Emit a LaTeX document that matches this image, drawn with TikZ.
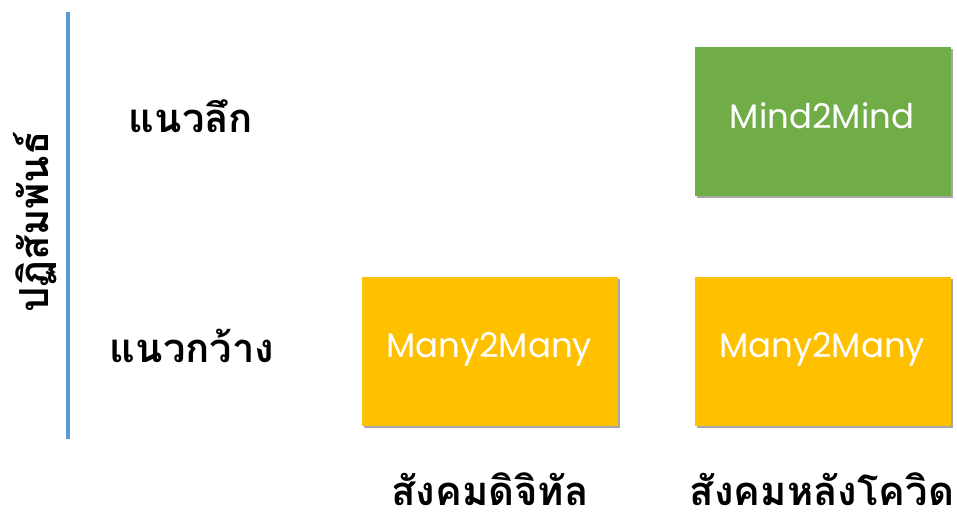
\documentclass[tikz,border=0pt]{standalone}
\usepackage{fontspec}
\setmainfont[Script=Thai]{Loma}
\newfontfamily\latinfont{Poppins}
\usetikzlibrary{shadows}
\definecolor{axisblue}{HTML}{5B9BD5}
\definecolor{boxgreen}{HTML}{70AD47}
\definecolor{boxorange}{HTML}{FFC000}
\begin{document}
\begin{tikzpicture}[x=1pt,y=-1pt,
  cell/.style={minimum width=256pt,minimum height=149pt,inner sep=0pt,
    drop shadow={shadow xshift=2pt,shadow yshift=-2pt,fill=black,opacity=0.35}},
  celltext/.style={anchor=base,inner sep=0pt,text=white,font=\latinfont\fontsize{34}{38}\selectfont},
  lbl/.style={anchor=base,font=\bfseries\fontsize{40}{44}\selectfont,inner sep=0pt,text depth=0pt}]
\useasboundingbox (0,0) rectangle (957,519);
\coordinate (ltop) at (68,12);
\coordinate (lbot) at (68,439);
\draw[axisblue,line width=3.5pt] (ltop) -- (lbot);
\node[lbl,rotate=90] (axis) at (48,222) {ปฏิสัมพันธ์};
\node[lbl] (deep) at (191,132) {แนวลึก};
\node[lbl] (wide) at (192,362) {แนวกว้าง};
\node[cell,fill=boxgreen] (m2m) at (822.5,121.5) {};
\node[cell,fill=boxorange] (dig) at (490,351) {};
\node[cell,fill=boxorange] (post) at (822.5,351) {};
\node[celltext] (m2mt) at (822,128) {Mind2Mind};
\node[celltext] (digt) at (489,357) {Many2Many};
\node[celltext] (postt) at (822,357) {Many2Many};
\node[lbl] (digl) at (490,505) {สังคมดิจิทัล};
\node[lbl] (postl) at (822,505) {สังคมหลังโควิด};
\end{tikzpicture}
\end{document}
